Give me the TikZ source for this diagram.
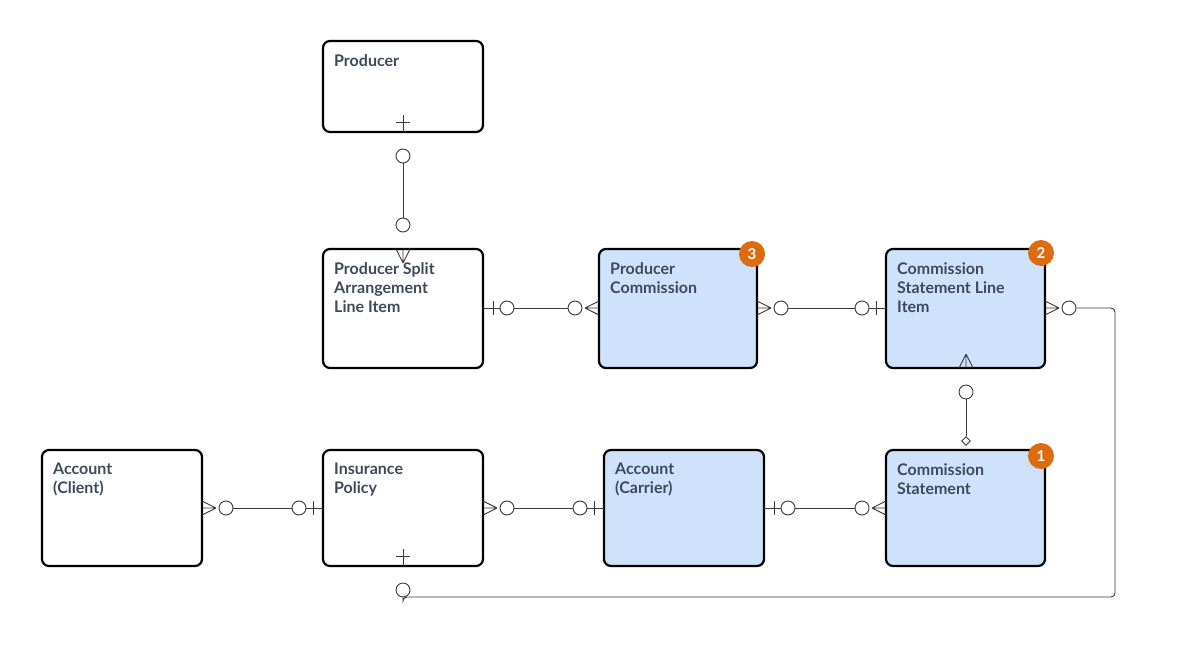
\documentclass[tikz,border=0pt]{standalone}
\usetikzlibrary{shapes.geometric}
\usepackage{fontspec}
\setmainfont{Lato}
\definecolor{txt}{HTML}{3E4A5C}
\definecolor{blu}{HTML}{CFE2FC}
\definecolor{org}{HTML}{DD6B10}
\definecolor{ln}{HTML}{3A3A3A}
\begin{document}
\begin{tikzpicture}[x=1pt,y=-1pt,
 ent/.style={draw=black,line width=2.2pt,rounded corners=7pt,fill=white},
 entb/.style={ent,fill=blu},
 lab/.style={anchor=north west,align=left,text=txt,font=\fontsize{16}{19}\selectfont\bfseries,inner sep=0pt},
 badge/.style={circle,fill=org,text=white,minimum size=26pt,inner sep=0pt,font=\fontsize{15}{15}\selectfont\bfseries},
 cc/.style={circle,draw=ln,fill=white,line width=0.9pt,minimum size=14pt,inner sep=0pt},
 con/.style={draw=ln,line width=0.9pt},
 many/.pic={\draw[con] (0,-7)--(14,0) (0,0)--(14,0) (0,7)--(14,0);},
 one/.pic={\draw[con] (0,0)--(17,0) (10,-7)--(10,7);}
]
\useasboundingbox (0,0) rectangle (1190,655);
\newcommand\ent[6]{\draw[#6] (#2,#3) rectangle (#4,#5); \node[lab] at (#2+11,#3+13) {#1};}
\ent{Producer}{323}{41}{483}{132}{ent}
\ent{Producer Split\\Arrangement\\Line Item}{323}{249}{483}{368}{ent}
\ent{Producer\\Commission}{599}{249}{757}{368}{entb}
\ent{Commission\\Statement Line\\Item}{886}{249}{1045}{368}{entb}
\ent{Account\\(Client)}{42}{450}{202}{566}{ent}
\ent{Insurance\\Policy}{323}{450}{483}{566}{ent}
\ent{Account\\(Carrier)}{604}{450}{764}{566}{entb}
\ent{Commission\\Statement}{886}{450}{1045}{566}{entb}
\node[badge] (b3) at (752,254) {3};
\node[badge] (b2) at (1041,253) {2};
\node[badge] (b1) at (1041,456) {1};
% connectors: circles
\node[cc] (p1) at (403,156) {}; \node[cc] (p2) at (403,225) {};
\draw[con] (p1)--(p2);
\pic[rotate=90] at (403,132) {one};
\pic[rotate=-90] at (403,249) {many};
\node[cc] (a1) at (507,308) {}; \node[cc] (a2) at (575,308) {};
\draw[con] (a1)--(a2);
\pic at (483,308) {one}; \pic[rotate=180] at (599,308) {many};
\node[cc] (c1) at (781,308) {}; \node[cc] (c2) at (862,308) {};
\draw[con] (c1)--(c2);
\pic at (757,308) {many}; \pic[rotate=180] at (886,308) {one};
\node[cc] (d1) at (966,392) {};
\node[draw=ln,fill=white,line width=0.9pt,diamond,inner sep=0pt,minimum size=9pt,shape aspect=1] (dm) at (966,441) {};
\pic[rotate=90] at (966,368) {many};
\draw[con] (d1)--(dm);
\node[cc] (e1) at (226,508) {}; \node[cc] (e2) at (299,508) {};
\draw[con] (e1)--(e2);
\pic at (202,508) {many}; \pic[rotate=180] at (323,508) {one};
\node[cc] (f1) at (507,508) {}; \node[cc] (f2) at (580,508) {};
\draw[con] (f1)--(f2);
\pic at (483,508) {many}; \pic[rotate=180] at (604,508) {one};
\node[cc] (g1) at (788,508) {}; \node[cc] (g2) at (862,508) {};
\draw[con] (g1)--(g2);
\pic at (764,508) {one}; \pic[rotate=180] at (886,508) {many};
\node[cc] (h1) at (1069,308) {}; \node[cc] (h2) at (403,590) {};
\coordinate (k1) at (1115,308); \coordinate (k2) at (1115,597); \coordinate (k3) at (403,597);
\draw[con,rounded corners=4pt] (h1)--(k1)--(k2)--(k3)--(h2);
\pic at (1045,308) {many}; \pic[rotate=90] at (403,566) {one};
\end{tikzpicture}
\end{document}
